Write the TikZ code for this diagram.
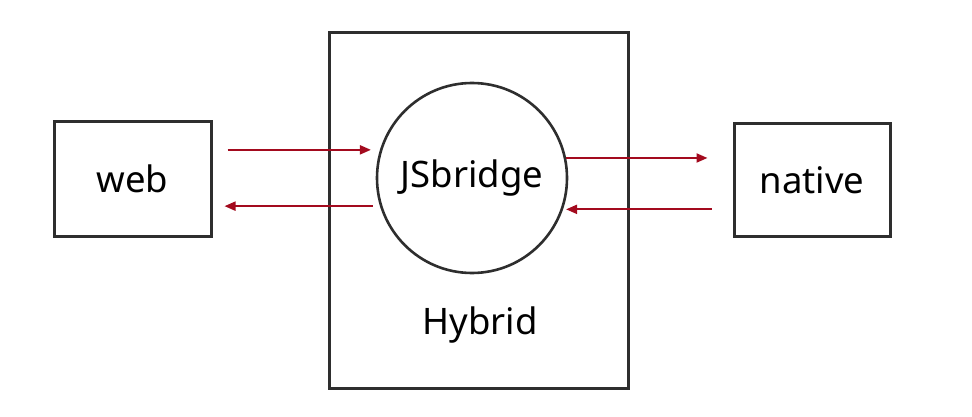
\documentclass[tikz,border=0pt]{standalone}
\usepackage{fontspec}
\setmainfont{Noto Sans}
\usepackage{tikz}
\usetikzlibrary{arrows.meta}
\definecolor{linegray}{HTML}{2E2E2E}
\definecolor{flowred}{HTML}{A30A1E}
\tikzstyle{block}=[draw=linegray,line width=3pt,rectangle,inner sep=0pt]
\tikzstyle{bridge}=[draw=linegray,line width=2.6pt,circle,inner sep=0pt,minimum size=190pt]
\tikzstyle{link} = [draw=flowred,line width=2pt,-{Triangle[length=11pt,width=9pt]}]

\begin{document}
\begin{tikzpicture}[x=1pt,y=-1pt,font=\fontsize{36.5}{42}\selectfont]
    \useasboundingbox (0,0) rectangle (972,417);
    % The outer Hybrid frame and the bridge inside it
    \node[block,minimum width=299pt,minimum height=355pt] (hybrid) at (478.5,210.5) {};
    \node[bridge] (jsb) at (472,178) {JSbridge};
    \node (hyb) at (480,325) {Hybrid};
    % The two sides
    \node[block,minimum width=157pt,minimum height=114pt] (web) at (132.5,179) {web};
    \node[block,minimum width=156pt,minimum height=113pt] (native) at (812,180) {native};
    % Calls going both ways
    \path[link,shorten <=15pt,shorten >=9pt] (web.east |- jsb.163.5) -- (jsb.163.5);
    \path[link,shorten <=7pt,shorten >=12pt] (jsb.197.8) -- (web.east |- jsb.197.8);
    \path[link,shorten >=25pt] (jsb.12.8) -- (native.west |- jsb.12.8);
    \path[link,shorten <=21pt,shorten >=3pt] (native.west |- jsb.-19.4) -- (jsb.-19.4);
\end{tikzpicture}
\end{document}
